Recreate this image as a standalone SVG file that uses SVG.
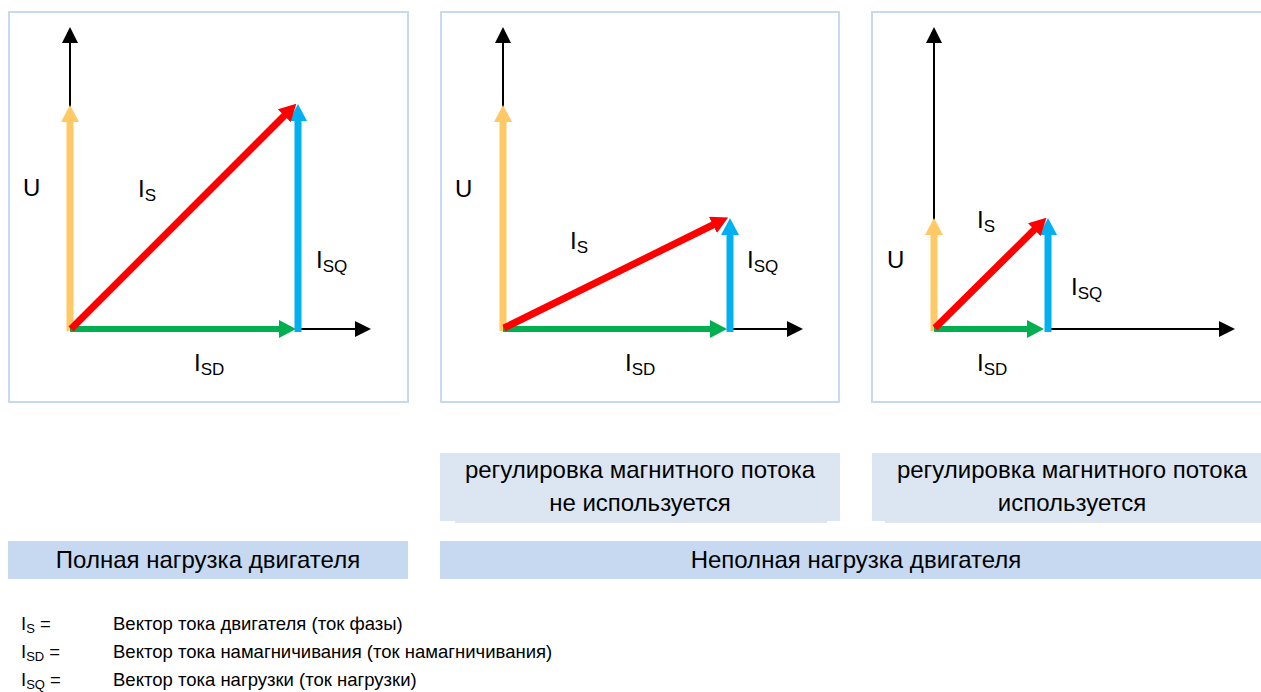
<svg xmlns="http://www.w3.org/2000/svg" width="1261" height="692" viewBox="0 0 1261 692">
<style>
text{font-family:"Liberation Sans",Arial,sans-serif;fill:#000}
.panel{fill:#fff;stroke:#C6D9F1;stroke-width:2}
.lbl{font-size:24px}
.sub{font-size:17px}
.box1{fill:#DCE6F2}
.box2{fill:#C6D9F1}
.bt{font-size:24px;text-anchor:middle}
.lg{font-size:18.5px}
.lgs{font-size:13px}
.axis{stroke:#000;stroke-width:2;fill:none}
.vy{stroke:#FFC966;stroke-width:7}
.vg{stroke:#00B050;stroke-width:6}
.vb{stroke:#00B0F0;stroke-width:7}
.vr{stroke:#FF0000;stroke-width:7}
.shadow{fill:#E4E4E4}
</style>
<defs>
<marker id="ak" markerUnits="userSpaceOnUse" markerWidth="16" markerHeight="16" viewBox="0 0 16 16" refX="1" refY="8" orient="auto"><path d="M0,0 L16,8 L0,16 z" fill="#000"/></marker>
<marker id="ay" markerUnits="userSpaceOnUse" markerWidth="17" markerHeight="18" viewBox="0 0 17 18" refX="1" refY="9" orient="auto"><path d="M0,0 L17,9 L0,18 z" fill="#FFC966"/></marker>
<marker id="ag" markerUnits="userSpaceOnUse" markerWidth="17" markerHeight="18" viewBox="0 0 17 18" refX="1" refY="9" orient="auto"><path d="M0,0 L17,9 L0,18 z" fill="#00B050"/></marker>
<marker id="ab" markerUnits="userSpaceOnUse" markerWidth="17" markerHeight="18" viewBox="0 0 17 18" refX="1" refY="9" orient="auto"><path d="M0,0 L17,9 L0,18 z" fill="#00B0F0"/></marker>
<marker id="ar" markerUnits="userSpaceOnUse" markerWidth="17" markerHeight="18" viewBox="0 0 17 18" refX="1" refY="9" orient="auto"><path d="M0,0 L17,9 L0,18 z" fill="#FF0000"/></marker>
</defs>
<rect width="1261" height="692" fill="#fff"/>

<g id="panel-full">
<rect class="panel" x="9" y="12" width="399" height="390"/>
<text class="lbl" x="23" y="196">U</text>
<text class="lbl" x="138" y="197">I<tspan class="sub" dy="4">S</tspan></text>
<text class="lbl" x="316" y="268">I<tspan class="sub" dy="4">SQ</tspan></text>
<text class="lbl" x="194" y="371">I<tspan class="sub" dy="4">SD</tspan></text>
</g>

<g id="panel-partial-noflux">
<rect class="panel" x="441" y="12" width="398" height="390"/>
<text class="lbl" x="455" y="197">U</text>
<text class="lbl" x="570" y="249">I<tspan class="sub" dy="4">S</tspan></text>
<text class="lbl" x="747" y="268">I<tspan class="sub" dy="4">SQ</tspan></text>
<text class="lbl" x="625" y="371">I<tspan class="sub" dy="4">SD</tspan></text>
</g>

<g id="panel-partial-flux">
<rect class="panel" x="872" y="12" width="400" height="390"/>
<text class="lbl" x="887" y="268">U</text>
<text class="lbl" x="977" y="228">I<tspan class="sub" dy="4">S</tspan></text>
<text class="lbl" x="1071" y="295">I<tspan class="sub" dy="4">SQ</tspan></text>
<text class="lbl" x="977" y="371">I<tspan class="sub" dy="4">SD</tspan></text>
</g>

<g id="connectors">
<!-- panel 1 -->
<line class="axis" x1="70" y1="331" x2="70" y2="42" marker-end="url(#ak)"/>
<line class="axis" x1="298" y1="329" x2="356" y2="329" marker-end="url(#ak)"/>
<line class="vy" x1="70" y1="331" x2="70" y2="121" marker-end="url(#ay)"/>
<line class="vg" x1="70" y1="329" x2="280" y2="329" marker-end="url(#ag)"/>
<line class="vb" x1="298" y1="332" x2="298" y2="120" marker-end="url(#ab)"/>
<line class="vr" x1="71" y1="329" x2="285" y2="115" marker-end="url(#ar)"/>
<!-- panel 2 -->
<line class="axis" x1="503" y1="331" x2="503" y2="42" marker-end="url(#ak)"/>
<line class="axis" x1="730" y1="329" x2="788" y2="329" marker-end="url(#ak)"/>
<line class="vy" x1="503" y1="331" x2="503" y2="121" marker-end="url(#ay)"/>
<line class="vg" x1="503" y1="329" x2="711" y2="329" marker-end="url(#ag)"/>
<line class="vb" x1="730" y1="332" x2="730" y2="234" marker-end="url(#ab)"/>
<line class="vr" x1="504" y1="328" x2="713.8" y2="224.5" marker-end="url(#ar)"/>
<!-- panel 3 -->
<line class="axis" x1="934" y1="331" x2="934" y2="42" marker-end="url(#ak)"/>
<line class="axis" x1="1048" y1="329" x2="1220" y2="329" marker-end="url(#ak)"/>
<line class="vy" x1="934" y1="331" x2="934" y2="234" marker-end="url(#ay)"/>
<line class="vg" x1="934" y1="329" x2="1028" y2="329" marker-end="url(#ag)"/>
<line class="vb" x1="1048" y1="332" x2="1048" y2="234" marker-end="url(#ab)"/>
<line class="vr" x1="935" y1="328" x2="1035" y2="229" marker-end="url(#ar)"/>
</g>

<g id="note-noflux">
<rect class="shadow" x="455" y="521" width="372" height="2"/>
<rect class="box1" x="440" y="453" width="400" height="68"/>
<text class="bt" x="640" y="478">регулировка магнитного потока</text>
<text class="bt" x="640" y="511">не используется</text>
</g>

<g id="note-flux">
<rect class="shadow" x="885" y="521" width="376" height="2"/>
<rect class="box1" x="872" y="453" width="400" height="68"/>
<text class="bt" x="1072" y="478">регулировка магнитного потока</text>
<text class="bt" x="1072" y="511">используется</text>
</g>

<g id="label-full">
<rect class="box2" x="8" y="541" width="400" height="38"/>
<text class="bt" x="208" y="568">Полная нагрузка двигателя</text>
</g>

<g id="label-partial">
<rect class="box2" x="440" y="541" width="832" height="38"/>
<text class="bt" x="856" y="568">Неполная нагрузка двигателя</text>
</g>

<g id="legend">
<text class="lg" x="21" y="630">I<tspan class="lgs" dy="3">S</tspan><tspan dy="-3"> =</tspan></text>
<text class="lg" x="113" y="630">Вектор тока двигателя (ток фазы)</text>
<text class="lg" x="21" y="658">I<tspan class="lgs" dy="3">SD</tspan><tspan dy="-3"> =</tspan></text>
<text class="lg" x="113" y="658">Вектор тока намагничивания (ток намагничивания)</text>
<text class="lg" x="21" y="686">I<tspan class="lgs" dy="3">SQ</tspan><tspan dy="-3"> =</tspan></text>
<text class="lg" x="113" y="686">Вектор тока нагрузки (ток нагрузки)</text>
</g>
</svg>
